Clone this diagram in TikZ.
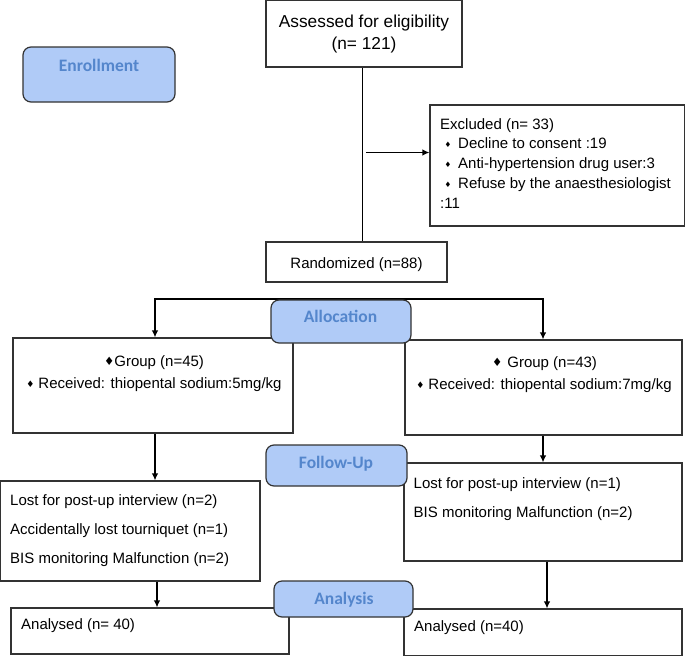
\documentclass[tikz,border=0pt]{standalone}
\usepackage{fontspec}
\setmainfont{Liberation Sans}
\newfontfamily\hdrfont{Carlito}
\newfontfamily\symf{DejaVu Sans}
\usetikzlibrary{arrows.meta}
\definecolor{hdrfill}{HTML}{B0CBF7}
\definecolor{hdrtext}{HTML}{5486CC}
\definecolor{edgec}{HTML}{333333}
\newcommand{\smbul}{\raisebox{1pt}{\symf\fontsize{7.5}{8}\selectfont ♦}}
\newcommand{\midbul}{\raisebox{0.8pt}{\symf\fontsize{9}{9}\selectfont ♦}}
\newcommand{\bigbul}{\raisebox{0.3pt}{\symf\fontsize{11.5}{12}\selectfont ♦}}
\begin{document}
\begin{tikzpicture}[x=1pt,y=-1pt,
  box/.style={draw=edgec, line width=1.2pt, inner sep=0pt, fill=white},
  hdr/.style={draw=edgec, line width=1.2pt, fill=hdrfill, rounded corners=8pt, inner sep=0pt},
  hdrlbl/.style={font=\hdrfont\bfseries\fontsize{17.5}{20}\selectfont, text=hdrtext, inner sep=0pt, anchor=base},
  txt/.style={font=\fontsize{15}{18}\selectfont, inner sep=0pt, anchor=base west},
  ctxt/.style={txt, anchor=base},
  bigtxt/.style={font=\fontsize{17.3}{20}\selectfont, inner sep=0pt, anchor=base},
  arr/.style={-{Latex[length=7pt,width=6.5pt]}, line width=1.2pt, draw=black},
  ln/.style={line width=1.2pt, draw=black}
]
\fill[white] (0,0) rectangle (685,656);
\useasboundingbox (0,0) rectangle (685,656);

% ---- boxes ----
\node[box, minimum width=196pt, minimum height=66.4pt] (assess) at (364,33.8) {};
\node[box, minimum width=254.4pt, minimum height=121pt] (excl) at (557.2,165.5) {};
\node[box, minimum width=181pt, minimum height=40pt] (rand) at (356.5,262) {};
\node[box, minimum width=280pt, minimum height=95pt] (grp1) at (153,385.5) {};
\node[box, minimum width=277pt, minimum height=95pt] (grp2) at (543.5,387.5) {};
\node[box, minimum width=259.4pt, minimum height=100pt] (lost1) at (130.3,531) {};
\node[box, minimum width=278pt, minimum height=98pt] (lost2) at (543,512) {};
\node[box, minimum width=278pt, minimum height=46pt] (an1) at (150,631) {};
\node[box, minimum width=278pt, minimum height=46.4pt] (an2) at (543,632.2) {};

% ---- connectors ----
\coordinate (xA) at (362.5,0);
\draw[ln] (assess.south -| xA) -- (rand.north -| xA);
\coordinate (exS) at (366,152.5);
\draw[arr] (exS) -- (excl.west |- exS);
\coordinate (brL) at (155,299);
\coordinate (brR) at (543,299);
\draw[arr] (brR) -- (brL) -- (grp1.north -| brL);
\draw[arr] (brL) -- (brR) -- (grp2.north -| brR);
\draw[arr] (grp1.south -| brL) -- (lost1.north -| brL);
\draw[arr] (grp2.south -| brR) -- (lost2.north -| brR);
\coordinate (xL) at (157,0);
\coordinate (xR) at (547,0);
\draw[arr] (lost1.south -| xL) -- (an1.north -| xL);
\draw[arr] (lost2.south -| xR) -- (an2.north -| xR);

% ---- stage headers ----
\node[hdr, minimum width=152pt, minimum height=55pt] (enroll) at (99,74.5) {};
\node[hdr, minimum width=140pt, minimum height=43pt] (alloc) at (341,321.5) {};
\node[hdr, minimum width=141pt, minimum height=41pt] (follow) at (336.5,465.5) {};
\node[hdr, minimum width=139pt, minimum height=36pt] (anal) at (343.5,599) {};
\node[hdrlbl] (enrollT) at (99,71) {Enrollment};
\node[hdrlbl] (allocT) at (340.5,322) {Allocation};
\node[hdrlbl] (followT) at (336,468) {Follow-Up};
\node[hdrlbl] (analT) at (344,604) {Analysis};

% ---- texts ----
\node[bigtxt] (assessT1) at (364,27.3) {Assessed for eligibility};
\node[bigtxt] (assessT2) at (364,49.3) {(n= 121)};

\node[txt] (exT1) at (440,129) {Excluded (n= 33)};
\node[txt] (exT2) at (444.5,148.8) {\makebox[13.5pt][l]{\smbul}Decline to consent :19};
\node[txt] (exT3) at (444.5,168.6) {\makebox[13.5pt][l]{\smbul}Anti-hypertension drug user:3};
\node[txt] (exT4) at (444.5,188.4) {\makebox[13.5pt][l]{\smbul}Refuse by the anaesthesiologist};
\node[txt] (exT5) at (440,208.2) {:11};

\node[ctxt] (randT) at (356.5,268) {Randomized (n=88)};

\node[ctxt] (g1T1) at (154,366) {\bigbul Group (n=45)};
\node[ctxt] (g1T2) at (154,388) {\midbul\hspace{4pt}Received: thiopental sodium:5mg/kg};
\node[ctxt] (g2T1) at (544.5,367) {\bigbul\hspace{5pt}Group (n=43)};
\node[ctxt] (g2T2) at (544,389) {\midbul\hspace{4pt}Received: thiopental sodium:7mg/kg};

\node[txt] (l1T1) at (10,505) {Lost for post-up interview (n=2)};
\node[txt] (l1T2) at (10,534) {Accidentally lost tourniquet (n=1)};
\node[txt] (l1T3) at (10,563) {BIS monitoring Malfunction (n=2)};
\node[txt] (l2T1) at (413.5,488) {Lost for post-up interview (n=1)};
\node[txt] (l2T2) at (413.5,517) {BIS monitoring Malfunction (n=2)};

\node[txt] (a1T) at (21,629) {Analysed (n= 40)};
\node[txt] (a2T) at (414,631) {Analysed (n=40)};
\end{tikzpicture}
\end{document}
